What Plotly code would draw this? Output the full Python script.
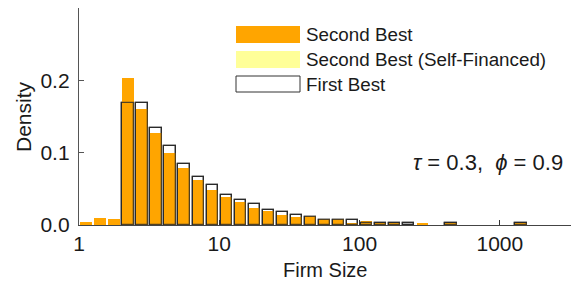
import plotly.graph_objects as go

# log10(firm size) bin centres
log10_size_bins = [0.05, 0.15, 0.25, 0.35, 0.45, 0.55, 0.65, 0.75, 0.85, 0.95,
                   1.05, 1.15, 1.25, 1.35, 1.45, 1.55, 1.65, 1.75, 1.85, 1.95,
                   2.05, 2.15, 2.25, 2.35, 2.45, 2.55, 2.65, 2.75, 2.85, 2.95,
                   3.05, 3.15, 3.25, 3.35, 3.45]

second_best = [0.0037, 0.0097, 0.008, 0.2035, 0.161, 0.127, 0.100, 0.079, 0.0625, 0.049,
               0.039, 0.032, 0.0235, 0.020, 0.0143, 0.0115, 0.012, 0.008, 0.0078, 0.0025,
               0.005, 0.003, 0.003, 0.0, 0.002, 0.0, 0.003, 0.0, 0.0, 0.0,
               0.0, 0.003, 0.0, 0.0, 0.0]

second_best_self_financed = [0.0037, 0.0097, 0.008, 0.2035, 0.161, 0.127, 0.100, 0.079, 0.0625, 0.049,
                             0.039, 0.032, 0.0235, 0.020, 0.0143, 0.0115, 0.012, 0.008, 0.0078, 0.0025,
                             0.005, 0.003, 0.003, 0.0, 0.002, 0.0, 0.003, 0.0, 0.0, 0.0,
                             0.0, 0.003, 0.0, 0.0, 0.0]

first_best = [0.0, 0.0, 0.0, 0.169, 0.169, 0.134, 0.109, 0.084, 0.0667, 0.056,
              0.042, 0.035, 0.0285, 0.0215, 0.0174, 0.0143, 0.011, 0.007, 0.0074, 0.007,
              0.003, 0.003, 0.003, 0.003, 0.0, 0.0, 0.003, 0.0, 0.0, 0.0,
              0.0, 0.003, 0.0, 0.0, 0.0]

x_tick_vals = [0, 1, 2, 3]
x_tick_text = ["1", "10", "100", "1000"]
y_tick_vals = [0.0, 0.1, 0.2]
y_tick_text = ["0.0", "0.1", "0.2"]

ORANGE = "#FFA500"
YELLOW = "#FFFF99"
EDGE = "#333333"
EDGE_OVER = "rgba(40,40,40,0.8)"
BW = 0.082
FONT = "Liberation Sans, Arial, sans-serif"
TXT = "#1a1a1a"


def nz(vals):
    return [v if v > 0 else None for v in vals]


fig = go.Figure()
fig.add_trace(go.Bar(x=log10_size_bins, y=nz(first_best), width=BW, name="First Best",
                     marker=dict(color="white", line=dict(color=EDGE, width=1.3))))
fig.add_trace(go.Bar(x=log10_size_bins, y=nz(second_best_self_financed), width=BW,
                     name="Second Best (Self-Financed)",
                     marker=dict(color=YELLOW, line=dict(width=0))))
fig.add_trace(go.Bar(x=log10_size_bins, y=nz(second_best), width=BW, name="Second Best",
                     marker=dict(color=ORANGE, line=dict(width=0))))
fig.add_trace(go.Bar(x=log10_size_bins, y=nz(first_best), width=BW, showlegend=False,
                     marker=dict(color="rgba(0,0,0,0)", line=dict(color=EDGE_OVER, width=1.3))))

W, H = 574, 290
L, R, T, B = 79, 3, 8, 65
pw, ph = W - L - R, H - T - B


def px_to_paper_x(px):
    return (px - L) / pw


def px_to_paper_y(py):
    return (H - B - py) / ph


# manual legend (wide swatches)
sw_x0, sw_x1 = 236, 300
items = [("Second Best", ORANGE, ORANGE, 26, 43),
         ("Second Best (Self-Financed)", YELLOW, YELLOW, 51, 68),
         ("First Best", "white", EDGE, 76, 92)]

shapes = []
annotations = []
for label, fill, line, y0, y1 in items:
    shapes.append(dict(type="rect", xref="paper", yref="paper",
                       x0=px_to_paper_x(sw_x0), x1=px_to_paper_x(sw_x1),
                       y0=px_to_paper_y(y1), y1=px_to_paper_y(y0),
                       fillcolor=fill, line=dict(color=line, width=1 if fill == "white" else 0)))
    annotations.append(dict(text=label, xref="paper", yref="paper",
                            x=px_to_paper_x(304), y=px_to_paper_y((y0 + y1) / 2),
                            xanchor="left", yanchor="middle", showarrow=False,
                            font=dict(size=18.8, color=TXT, family=FONT)))

annotations.append(dict(text="<i>τ</i> = 0.3,  <i>ϕ</i> = 0.9", xref="paper", yref="paper",
                        x=px_to_paper_x(565), y=px_to_paper_y(162),
                        xanchor="right", yanchor="middle", showarrow=False,
                        font=dict(size=22, color=TXT, family=FONT)))
annotations.append(dict(text="Firm Size", xref="paper", yref="paper",
                        x=px_to_paper_x(325), y=px_to_paper_y(270),
                        xanchor="center", yanchor="middle", showarrow=False,
                        font=dict(size=20, color=TXT, family=FONT)))
annotations.append(dict(text="Density", xref="paper", yref="paper", textangle=-90,
                        x=px_to_paper_x(24), y=px_to_paper_y(117),
                        xanchor="center", yanchor="middle", showarrow=False,
                        font=dict(size=21, color=TXT, family=FONT)))

fig.update_layout(
    width=W, height=H,
    margin=dict(l=L, r=R, t=T, b=B, autoexpand=False),
    paper_bgcolor="white", plot_bgcolor="white",
    barmode="overlay", bargap=0,
    showlegend=False,
    shapes=shapes, annotations=annotations,
    font=dict(family=FONT, color=TXT),
)
fig.update_xaxes(range=[0, 3.507], tickvals=x_tick_vals, ticktext=x_tick_text, automargin=False,
                 ticks="inside", ticklen=5, tickwidth=1.3, tickcolor="#333",
                 showline=True, linecolor="#444", linewidth=1.3, showgrid=False, zeroline=False,
                 tickfont=dict(size=21, color=TXT), ticklabelstandoff=0)
fig.update_yaxes(range=[0, 0.301], tickvals=y_tick_vals, ticktext=y_tick_text, automargin=False,
                 ticks="inside", ticklen=5, tickwidth=1.3, tickcolor="#555",
                 showline=True, linecolor="#555", linewidth=1.3, showgrid=False, zeroline=False,
                 tickfont=dict(size=21, color=TXT), ticklabelstandoff=4)

fig.write_html("out.html", config={"displayModeBar": False},
               post_script="document.body.style.margin='0';")
